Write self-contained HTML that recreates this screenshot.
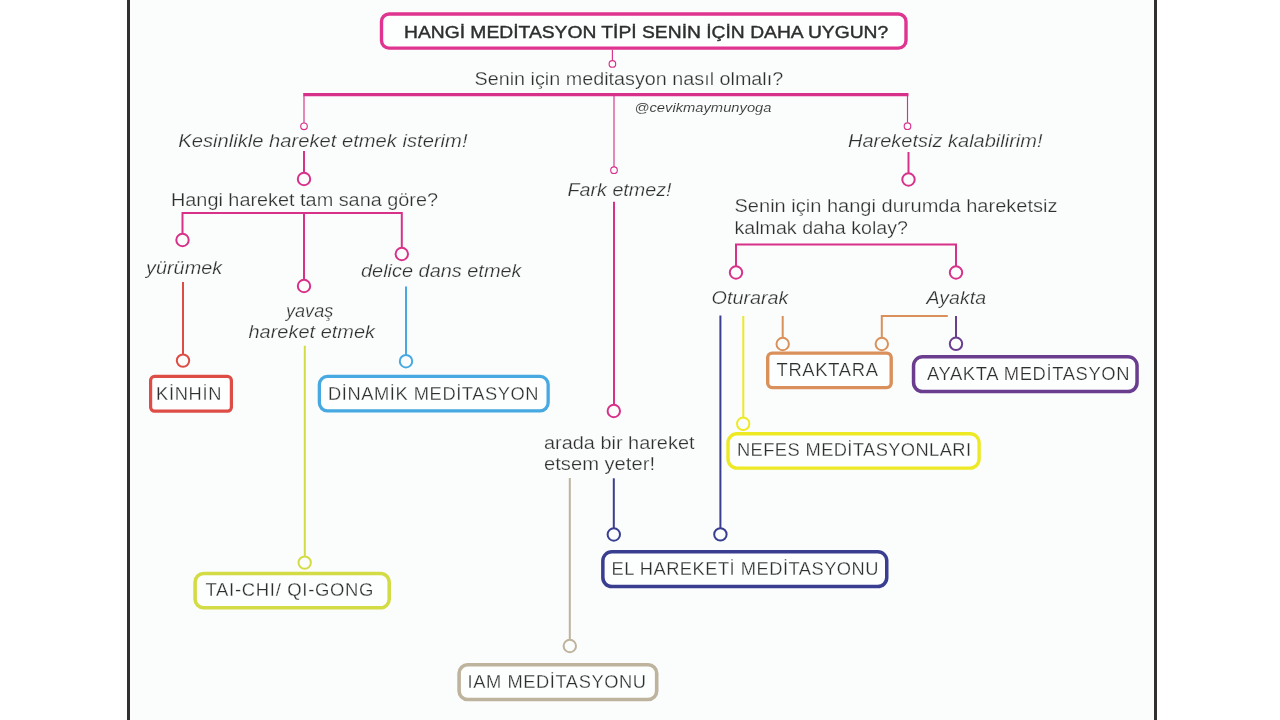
<!DOCTYPE html>
<html><head><meta charset="utf-8"><style>
html,body{margin:0;padding:0;background:#fff;width:1280px;height:720px;overflow:hidden}
#pg{position:absolute;left:127px;top:0;width:1024px;height:720px;background:#fbfdfd;border-left:3px solid #303030;border-right:3px solid #303030}
svg{position:absolute;left:0;top:0;will-change:transform}
text{font-family:"Liberation Sans",sans-serif;fill:#2e2e2e}
</style></head><body>
<div id="pg"></div>
<svg width="1280" height="720" viewBox="0 0 1280 720">
<rect x="381.50" y="14.00" width="524.50" height="34.10" rx="7.5" fill="#fdfefe" stroke="#df3590" stroke-width="3.4"/>
<rect x="150.60" y="376.40" width="80.80" height="34.80" rx="4" fill="#fdfefe" stroke="#de4d45" stroke-width="3.2"/>
<rect x="319.35" y="376.45" width="228.80" height="34.40" rx="8" fill="#fdfefe" stroke="#46a9e2" stroke-width="3.3"/>
<rect x="195.10" y="573.50" width="194.10" height="34.30" rx="8.5" fill="#fdfefe" stroke="#d4dc45" stroke-width="3.6"/>
<rect x="602.85" y="551.75" width="283.90" height="34.80" rx="9" fill="#fdfefe" stroke="#3a3e90" stroke-width="3.5"/>
<rect x="459.10" y="664.80" width="197.60" height="34.70" rx="8.5" fill="#fdfefe" stroke="#beb39d" stroke-width="3.6"/>
<rect x="767.70" y="353.10" width="123.50" height="34.50" rx="4.5" fill="#fdfefe" stroke="#d9905a" stroke-width="3.4"/>
<rect x="913.55" y="356.75" width="223.50" height="34.80" rx="9" fill="#fdfefe" stroke="#6a3d8f" stroke-width="3.5"/>
<rect x="728.00" y="433.70" width="251.10" height="34.40" rx="9" fill="#fdfefe" stroke="#ede925" stroke-width="3.4"/>
<line x1="612.4" y1="49.8" x2="612.4" y2="60.8" stroke="#d8318a" stroke-width="1.15"/>
<circle cx="612.4" cy="63.9" r="3.3" fill="#fbfdfd" stroke="#d8318a" stroke-width="1.15"/>
<path d="M303.2 94.7 H908.5" stroke="#d8318a" stroke-width="3.2" fill="none"/>
<line x1="304" y1="96" x2="304" y2="123.2" stroke="#d8318a" stroke-width="1.15"/>
<circle cx="304" cy="126.3" r="3.3" fill="#fbfdfd" stroke="#d8318a" stroke-width="1.15"/>
<line x1="614" y1="96" x2="614" y2="167.1" stroke="#d8318a" stroke-width="1.15"/>
<circle cx="614" cy="170.2" r="3.3" fill="#fbfdfd" stroke="#d8318a" stroke-width="1.15"/>
<line x1="907.5" y1="96" x2="907.5" y2="122.5" stroke="#d8318a" stroke-width="1.15"/>
<circle cx="907.5" cy="126.2" r="3.3" fill="#fbfdfd" stroke="#d8318a" stroke-width="1.15"/>
<line x1="304" y1="151" x2="304" y2="172" stroke="#d8318a" stroke-width="2"/>
<circle cx="304" cy="179" r="6.2" fill="#fbfdfd" stroke="#d8318a" stroke-width="2"/>
<path d="M182.5 233.8 V213 H401.8 V247.8 M304 213 V279.8" stroke="#d8318a" stroke-width="2" fill="none"/>
<circle cx="182.5" cy="240" r="6.2" fill="#fbfdfd" stroke="#d8318a" stroke-width="2"/>
<circle cx="304" cy="286" r="6.2" fill="#fbfdfd" stroke="#d8318a" stroke-width="2"/>
<circle cx="401.8" cy="254" r="6.2" fill="#fbfdfd" stroke="#d8318a" stroke-width="2"/>
<line x1="183" y1="282" x2="183" y2="354" stroke="#de4d45" stroke-width="2"/>
<circle cx="183" cy="360.6" r="6.2" fill="#fbfdfd" stroke="#de4d45" stroke-width="2"/>
<line x1="406" y1="286.4" x2="406" y2="355" stroke="#46a9e2" stroke-width="2"/>
<circle cx="406" cy="361.2" r="6.2" fill="#fbfdfd" stroke="#46a9e2" stroke-width="2"/>
<line x1="304.8" y1="345.7" x2="304.8" y2="556" stroke="#d4dc45" stroke-width="2"/>
<circle cx="304.7" cy="562.6" r="6.2" fill="#fbfdfd" stroke="#d4dc45" stroke-width="2"/>
<line x1="614" y1="201.7" x2="614" y2="404.5" stroke="#d8318a" stroke-width="2"/>
<circle cx="613.8" cy="411" r="6.2" fill="#fbfdfd" stroke="#d8318a" stroke-width="2"/>
<line x1="613.8" y1="478.3" x2="613.8" y2="528.3" stroke="#3a3e90" stroke-width="2"/>
<circle cx="613.8" cy="534.5" r="6.2" fill="#fbfdfd" stroke="#3a3e90" stroke-width="2"/>
<line x1="569.8" y1="478" x2="569.8" y2="640" stroke="#beb39d" stroke-width="2"/>
<circle cx="569.8" cy="646" r="6.2" fill="#fbfdfd" stroke="#beb39d" stroke-width="2"/>
<line x1="908.5" y1="152" x2="908.5" y2="173" stroke="#d8318a" stroke-width="2"/>
<circle cx="908.5" cy="179.5" r="6.2" fill="#fbfdfd" stroke="#d8318a" stroke-width="2"/>
<path d="M736 266.3 V244.6 H956 V266.3" stroke="#d8318a" stroke-width="2" fill="none"/>
<circle cx="736" cy="272.5" r="6.2" fill="#fbfdfd" stroke="#d8318a" stroke-width="2"/>
<circle cx="956" cy="272.5" r="6.2" fill="#fbfdfd" stroke="#d8318a" stroke-width="2"/>
<line x1="720.4" y1="315.5" x2="720.4" y2="528.2" stroke="#3a3e90" stroke-width="2"/>
<circle cx="720.4" cy="534.4" r="6.2" fill="#fbfdfd" stroke="#3a3e90" stroke-width="2"/>
<line x1="743.3" y1="316" x2="743.3" y2="417.5" stroke="#ede925" stroke-width="2"/>
<circle cx="743.2" cy="423.8" r="6.2" fill="#fbfdfd" stroke="#ede925" stroke-width="2"/>
<line x1="782.7" y1="316" x2="782.7" y2="337.5" stroke="#d9905a" stroke-width="2"/>
<circle cx="782.7" cy="344" r="6.2" fill="#fbfdfd" stroke="#d9905a" stroke-width="2"/>
<path d="M947.8 316 H881.8 V337.8" stroke="#d9905a" stroke-width="2" fill="none"/>
<circle cx="881.8" cy="344" r="6.2" fill="#fbfdfd" stroke="#d9905a" stroke-width="2"/>
<line x1="956" y1="316" x2="956" y2="337.5" stroke="#6a3d8f" stroke-width="2"/>
<circle cx="956" cy="343.8" r="6.2" fill="#fbfdfd" stroke="#6a3d8f" stroke-width="2"/>
<text x="404.0" y="38" font-size="16.8" textLength="484.25" lengthAdjust="spacingAndGlyphs" stroke="#2e2e2e" stroke-width="0.4">HANGİ MEDİTASYON TİPİ SENİN İÇİN DAHA UYGUN?</text>
<text x="474.5" y="85" font-size="17.6" textLength="308.75" lengthAdjust="spacingAndGlyphs" stroke="#fbfdfd" stroke-width="0.25">Senin için meditasyon nasıl olmalı?</text>
<text x="634.5" y="112" font-size="13.6" textLength="137.0" lengthAdjust="spacingAndGlyphs" font-style="italic" stroke="#fbfdfd" stroke-width="0.12">@cevikmaymunyoga</text>
<text x="178.25" y="147" font-size="17.6" textLength="289.25" lengthAdjust="spacingAndGlyphs" font-style="italic" stroke="#fbfdfd" stroke-width="0.25">Kesinlikle hareket etmek isterim!</text>
<text x="171.0" y="206" font-size="17.6" textLength="267.0" lengthAdjust="spacingAndGlyphs" stroke="#fbfdfd" stroke-width="0.25">Hangi hareket tam sana göre?</text>
<text x="146.0" y="274" font-size="17.6" textLength="76.25" lengthAdjust="spacingAndGlyphs" font-style="italic" stroke="#fbfdfd" stroke-width="0.25">yürümek</text>
<text x="361.0" y="277" font-size="17.6" textLength="160.5" lengthAdjust="spacingAndGlyphs" font-style="italic" stroke="#fbfdfd" stroke-width="0.25">delice dans etmek</text>
<text x="286.0" y="317" font-size="17.6" textLength="47.25" lengthAdjust="spacingAndGlyphs" font-style="italic" stroke="#fbfdfd" stroke-width="0.25">yavaş</text>
<text x="248.5" y="338" font-size="17.6" textLength="126.5" lengthAdjust="spacingAndGlyphs" font-style="italic" stroke="#fbfdfd" stroke-width="0.25">hareket etmek</text>
<text x="567.5" y="196" font-size="17.6" textLength="104.0" lengthAdjust="spacingAndGlyphs" font-style="italic" stroke="#fbfdfd" stroke-width="0.25">Fark etmez!</text>
<text x="544.0" y="449" font-size="17.6" textLength="150.5" lengthAdjust="spacingAndGlyphs" stroke="#fbfdfd" stroke-width="0.25">arada bir hareket</text>
<text x="544.0" y="470" font-size="17.6" textLength="111.0" lengthAdjust="spacingAndGlyphs" stroke="#fbfdfd" stroke-width="0.25">etsem yeter!</text>
<text x="848.0" y="147" font-size="17.6" textLength="194.5" lengthAdjust="spacingAndGlyphs" font-style="italic" stroke="#fbfdfd" stroke-width="0.25">Hareketsiz kalabilirim!</text>
<text x="734.5" y="212" font-size="17.6" textLength="323.0" lengthAdjust="spacingAndGlyphs" stroke="#fbfdfd" stroke-width="0.25">Senin için hangi durumda hareketsiz</text>
<text x="734.5" y="234" font-size="17.6" textLength="173.5" lengthAdjust="spacingAndGlyphs" stroke="#fbfdfd" stroke-width="0.25">kalmak daha kolay?</text>
<text x="711.5" y="304" font-size="17.6" textLength="77.0" lengthAdjust="spacingAndGlyphs" font-style="italic" stroke="#fbfdfd" stroke-width="0.25">Oturarak</text>
<text x="926.5" y="304" font-size="17.6" textLength="59.5" lengthAdjust="spacingAndGlyphs" font-style="italic" stroke="#fbfdfd" stroke-width="0.25">Ayakta</text>
<text transform="matrix(1.04,0,0,1,-6.240,0)" x="156.0" y="400" font-size="17.6" textLength="62.981" lengthAdjust="spacing" stroke="#fdfefe" stroke-width="0.25">KİNHİN</text>
<text transform="matrix(1.04,0,0,1,-13.120,0)" x="328.0" y="400" font-size="17.6" textLength="202.404" lengthAdjust="spacing" stroke="#fdfefe" stroke-width="0.25">DİNAMİK MEDİTASYON</text>
<text transform="matrix(1.05,0,0,1,-10.275,0)" x="205.5" y="596" font-size="17.6" textLength="160.000" lengthAdjust="spacing" stroke="#fdfefe" stroke-width="0.25">TAI-CHI/ QI-GONG</text>
<text transform="matrix(1.04,0,0,1,-24.460,0)" x="611.5" y="575" font-size="17.6" textLength="256.731" lengthAdjust="spacing" stroke="#fdfefe" stroke-width="0.25">EL HAREKETİ MEDİTASYONU</text>
<text transform="matrix(1.04,0,0,1,-18.700,0)" x="467.5" y="688" font-size="17.6" textLength="171.635" lengthAdjust="spacing" stroke="#fdfefe" stroke-width="0.25">IAM MEDİTASYONU</text>
<text transform="matrix(1.045,0,0,1,-34.942,0)" x="776.5" y="376" font-size="17.6" textLength="97.129" lengthAdjust="spacing" stroke="#fdfefe" stroke-width="0.25">TRAKTARA</text>
<text transform="matrix(1.045,0,0,1,-41.715,0)" x="927.0" y="380" font-size="17.6" textLength="193.780" lengthAdjust="spacing" stroke="#fdfefe" stroke-width="0.25">AYAKTA MEDİTASYON</text>
<text transform="matrix(1.04,0,0,1,-29.480,0)" x="737.0" y="456" font-size="17.6" textLength="225.000" lengthAdjust="spacing" stroke="#fdfefe" stroke-width="0.25">NEFES MEDİTASYONLARI</text>
</svg>
</body></html>
